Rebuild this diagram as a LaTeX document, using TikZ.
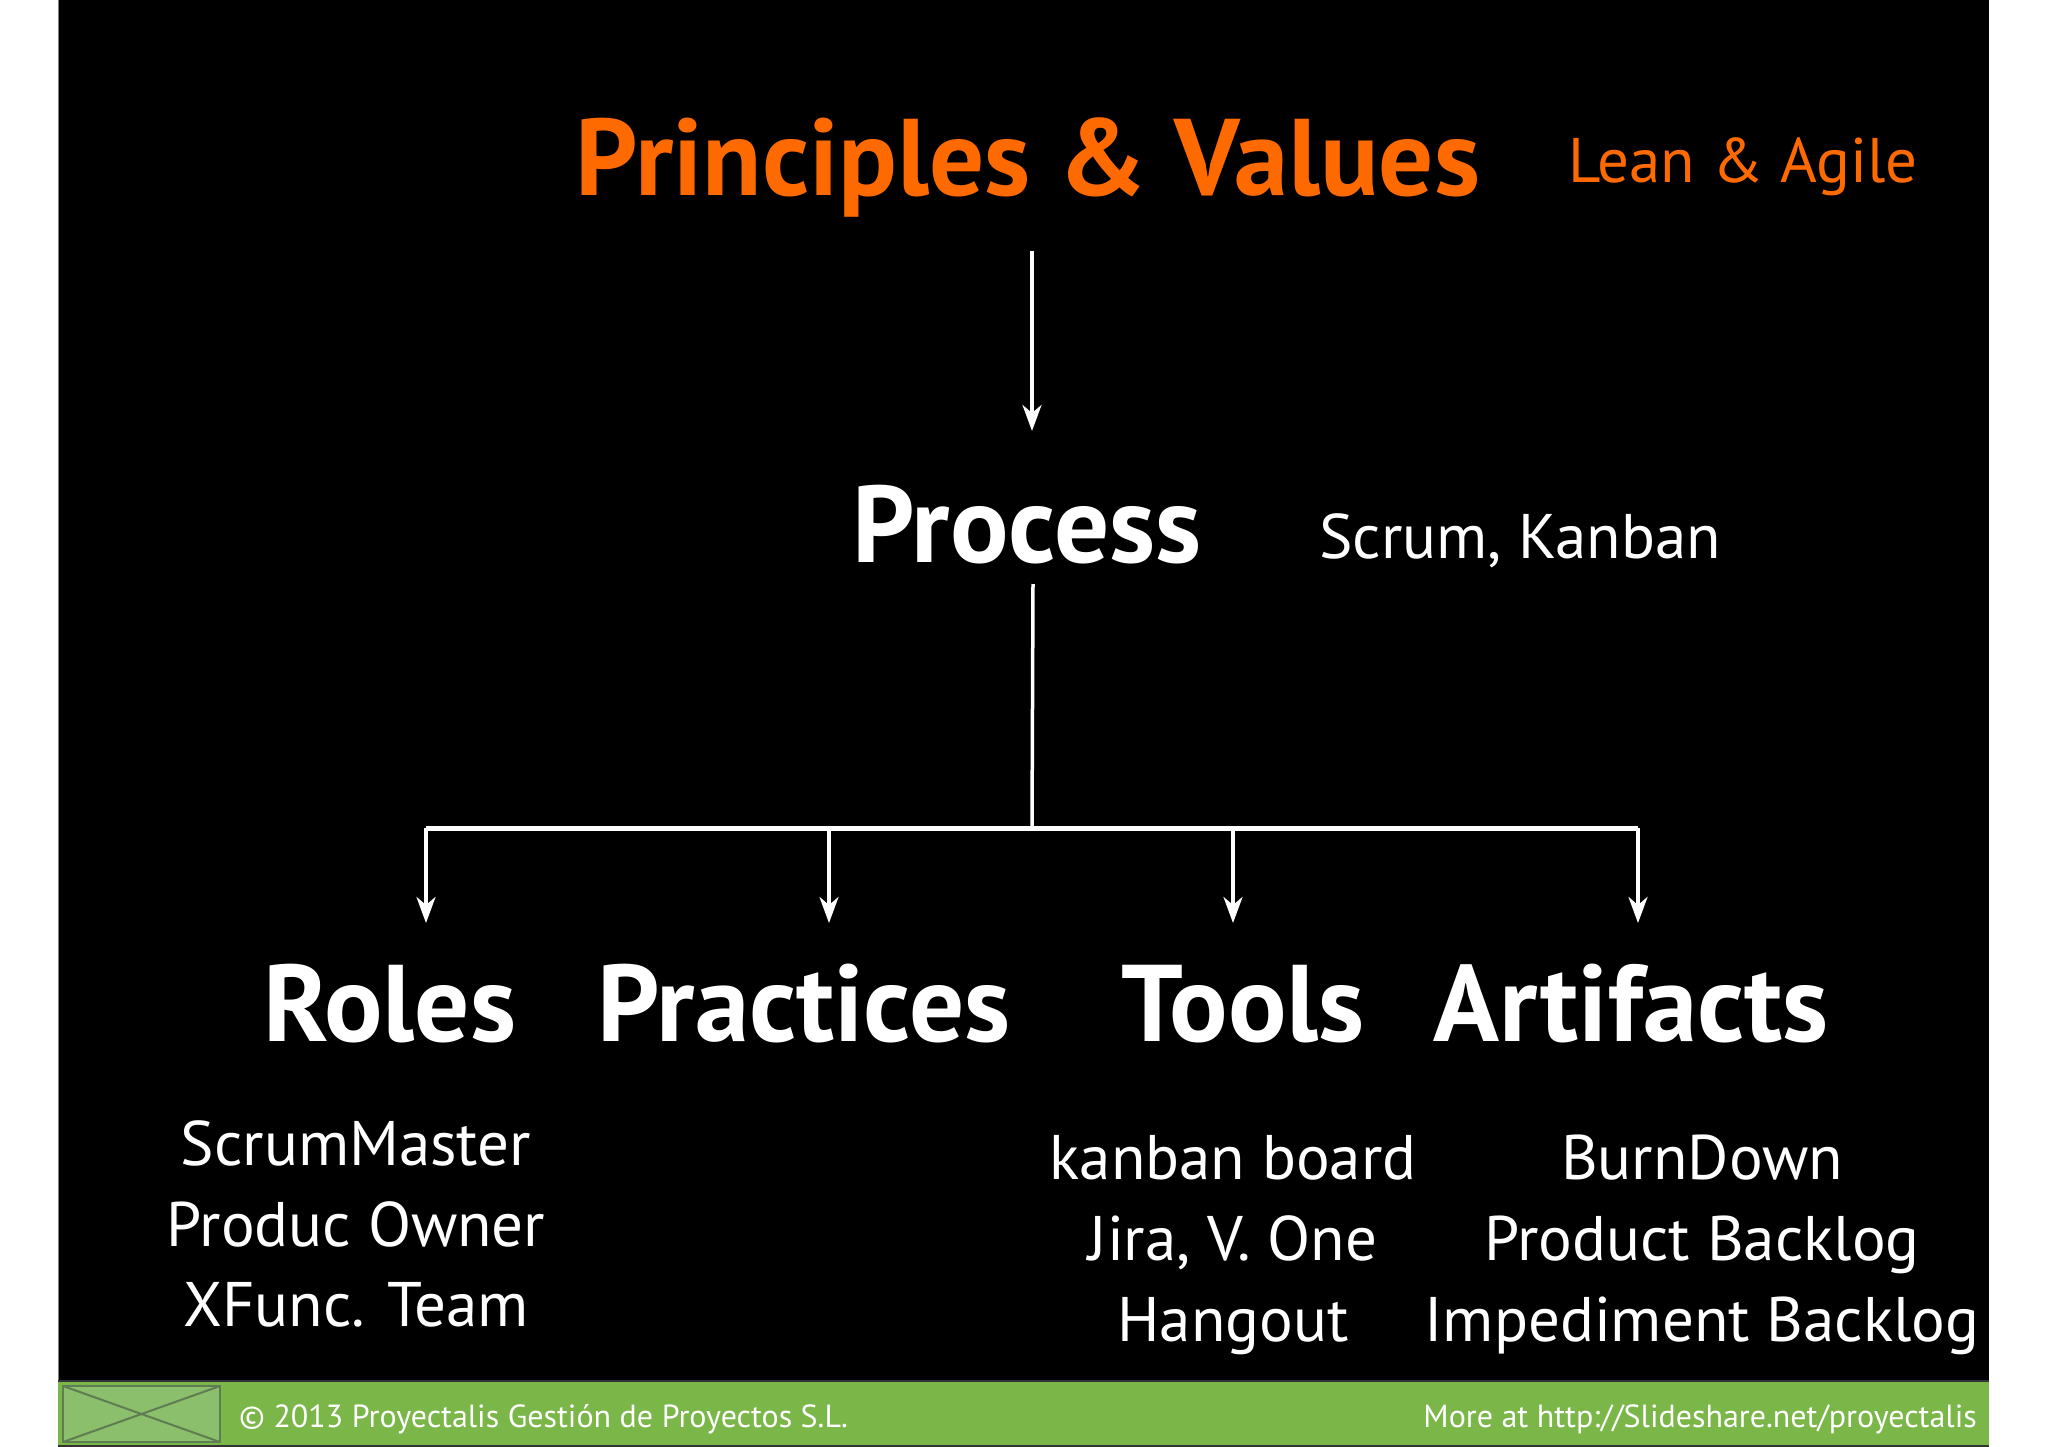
\documentclass[tikz,border=0pt]{standalone}
\usepackage{fontspec}
\setmainfont{PT Sans}
\usetikzlibrary{arrows.meta}
\definecolor{orng}{HTML}{FF6A00}
\definecolor{grn}{HTML}{7AB648}
\definecolor{icongrn}{HTML}{8CBF6C}
\definecolor{iconline}{HTML}{5F7D52}
\begin{document}
\begin{tikzpicture}[x=1pt,y=-1pt,
  big/.style={text=white,font=\fontsize{109}{120}\selectfont\bfseries,anchor=base,inner sep=0pt},
  bigo/.style={big,text=orng},
  side/.style={text=white,font=\fontsize{63}{72}\selectfont,anchor=base,inner sep=0pt},
  sideo/.style={side,text=orng},
  item/.style={text=white,font=\fontsize{63}{72}\selectfont,anchor=base,inner sep=0pt},
  foot/.style={text=white,font=\fontsize{32}{36}\selectfont,inner sep=0pt},
  conn/.style={draw=white,line width=3.5pt},
  hconn/.style={draw=white,line width=5pt},
  tip/.style={-{Stealth[length=26pt,width=19pt,inset=8pt]}}]
\useasboundingbox (0,0) rectangle (2048,1447);
\fill[white] (0,0) rectangle (2048,1447);
\fill[black] (58,0) rectangle (1989,1381);
\draw[gray,line width=1pt] (58.5,0) -- (58.5,1381);
\fill[grn] (58,1381) rectangle (1989,1447);
\draw[black!80,line width=1.5pt] (58,1381) -- (1989,1381);
\draw[black!80,line width=1.5pt] (58,1446) -- (1989,1446);
% icon
\draw[iconline,fill=icongrn,line width=2pt] (63,1386) rectangle (220,1442);
\draw[iconline,line width=2pt] (63,1386) -- (220,1442) (63,1442) -- (220,1386);
% texts
\node[bigo] (pv) at (1028,196) {Principles \& Values};
\node[sideo] (la) at (1743,183) {Lean \& Agile};
\node[big] (proc) at (1027,562) {Process};
\node[side] (sk) at (1520,558) {Scrum, Kanban};
\node[big] (roles) at (390,1041) {Roles};
\node[big] (prac) at (804,1041) {Practices};
\node[big] (tools) at (1243,1041) {Tools};
\node[big] (arts) at (1631,1041) {Artifacts};
\node[item] (r1) at (356,1165) {ScrumMaster};
\node[item] (r2) at (356,1246) {Produc Owner};
\node[item] (r3) at (356,1326) {XFunc. Team};
\node[item] (t1) at (1233,1179) {kanban board};
\node[item] (t2) at (1233,1260) {Jira, V. One};
\node[item] (t3) at (1233,1341) {Hangout};
\node[item] (a1) at (1702,1179) {BurnDown};
\node[item] (a2) at (1702,1260) {Product Backlog};
\node[item] (a3) at (1702,1341) {Impediment Backlog};
\node[foot,anchor=base west] (fl) at (239,1427) {© 2013 Proyectalis Gestión de Proyectos S.L.};
\node[foot,anchor=base east] (fr) at (1977,1427) {More at http://Slideshare.net/proyectalis};
% connectors
\coordinate (pvs) at (1032,251);
\coordinate (proct) at (1032,431);
\coordinate (procs) at (1033,584);
\coordinate (hub) at (1032,828);
\coordinate (hl) at (426,828);
\coordinate (hr) at (1638,828);
\coordinate (d1) at (426,923);
\coordinate (d2) at (829,923);
\coordinate (d3) at (1233,923);
\coordinate (d4) at (1638,923);
\draw[conn,tip] (pvs) -- (proct);
\draw[conn] (procs) -- (hub);
\draw[hconn] (hl) -- (hr);
\draw[conn,tip] (hl) -- (d1);
\draw[conn,tip] (hub -| d2) -- (d2);
\draw[conn,tip] (hub -| d3) -- (d3);
\draw[conn,tip] (hr) -- (d4);
\end{tikzpicture}
\end{document}
